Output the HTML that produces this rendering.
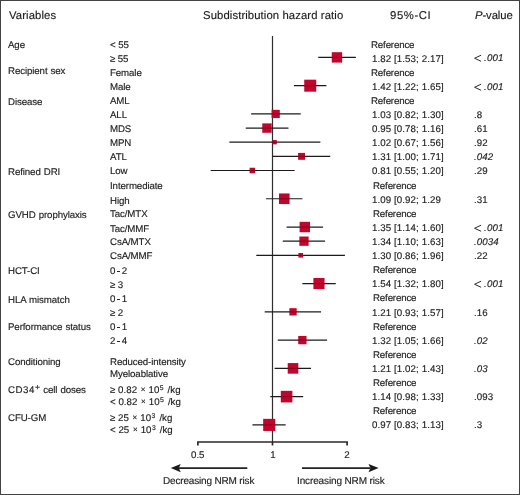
<!DOCTYPE html>
<html><head><meta charset="utf-8"><style>
html,body{margin:0;padding:0;background:#fff;}
body{width:520px;height:495px;position:relative;overflow:hidden;font-family:"Liberation Sans",sans-serif;color:#1e1c1d;text-rendering:geometricPrecision;}
.frame{position:absolute;left:0;top:0;width:518px;height:493px;border:1px solid #434343;}
.t{position:absolute;white-space:nowrap;will-change:transform;-webkit-text-stroke:0.15px #1e1c1d;}
sup{font-size:70%;vertical-align:0;position:relative;top:-0.42em;line-height:0;margin-left:0.4px;margin-right:1.3px;}
sup.sp{font-size:90%;top:-3px;margin-left:0.3px;margin-right:0;}
.x{font-size:82%;margin:0 0.3px 0 0.9px;position:relative;top:-0.6px;}
.d{display:inline-block;width:3.2px;height:0.95px;background:#2a2a2a;vertical-align:2.3px;margin:0 1.55px 0 1.7px;}
i{font-style:italic;}
svg{position:absolute;left:0;top:0;}
</style></head><body>
<div class="frame"></div>
<div class="t" style="left:8.60px;top:11px;font-size:11.3px;line-height:11.3px;letter-spacing:0.1px;">Variables</div>
<div class="t" style="left:203.00px;top:11px;font-size:11.3px;line-height:11.3px;letter-spacing:0.1px;">Subdistribution hazard ratio</div>
<div class="t" style="left:389.50px;top:11px;font-size:11.3px;line-height:11.3px;letter-spacing:0.6px;">95%-CI</div>
<div class="t" style="left:474.50px;top:11px;font-size:11.3px;line-height:11.3px;letter-spacing:-0.1px;"><i>P</i>-value</div>
<div class="t" style="left:8.20px;top:41px;font-size:9.7px;line-height:9.7px;letter-spacing:-0.1px;word-spacing:0.5px;">Age</div>
<div class="t" style="left:110.00px;top:41px;font-size:9.7px;line-height:9.7px;letter-spacing:-0.1px;">&lt; 55</div>
<div class="t" style="left:371.10px;top:41px;font-size:9.7px;line-height:9.7px;letter-spacing:-0.15px;">Reference</div>
<div class="t" style="left:110.00px;top:55px;font-size:9.7px;line-height:9.7px;letter-spacing:-0.1px;">&ge; 55</div>
<div class="t" style="left:372.00px;top:55px;font-size:9.7px;line-height:9.7px;letter-spacing:0.1px;">1.82 [1.53; 2.17]</div>
<div class="t" style="left:483.90px;top:54px;font-size:9.7px;line-height:9.7px;letter-spacing:0.2px;"><i>.001</i></div>
<div class="t" style="left:8.20px;top:67px;font-size:9.7px;line-height:9.7px;letter-spacing:-0.1px;word-spacing:0.5px;">Recipient sex</div>
<div class="t" style="left:110.00px;top:69px;font-size:9.7px;line-height:9.7px;letter-spacing:-0.1px;">Female</div>
<div class="t" style="left:371.10px;top:69px;font-size:9.7px;line-height:9.7px;letter-spacing:-0.15px;">Reference</div>
<div class="t" style="left:110.00px;top:83px;font-size:9.7px;line-height:9.7px;letter-spacing:-0.1px;">Male</div>
<div class="t" style="left:372.00px;top:83px;font-size:9.7px;line-height:9.7px;letter-spacing:0.1px;">1.42 [1.22; 1.65]</div>
<div class="t" style="left:483.90px;top:83px;font-size:9.7px;line-height:9.7px;letter-spacing:0.2px;"><i>.001</i></div>
<div class="t" style="left:8.20px;top:98px;font-size:9.7px;line-height:9.7px;letter-spacing:-0.1px;word-spacing:0.5px;">Disease</div>
<div class="t" style="left:110.00px;top:97px;font-size:9.7px;line-height:9.7px;letter-spacing:-0.1px;">AML</div>
<div class="t" style="left:371.10px;top:97px;font-size:9.7px;line-height:9.7px;letter-spacing:-0.15px;">Reference</div>
<div class="t" style="left:110.00px;top:111px;font-size:9.7px;line-height:9.7px;letter-spacing:-0.1px;">ALL</div>
<div class="t" style="left:372.00px;top:111px;font-size:9.7px;line-height:9.7px;letter-spacing:0.1px;">1.03 [0.82; 1.30]</div>
<div class="t" style="left:474.00px;top:111px;font-size:9.7px;line-height:9.7px;letter-spacing:0.1px;">.8</div>
<div class="t" style="left:110.00px;top:125px;font-size:9.7px;line-height:9.7px;letter-spacing:-0.1px;">MDS</div>
<div class="t" style="left:372.00px;top:125px;font-size:9.7px;line-height:9.7px;letter-spacing:0.1px;">0.95 [0.78; 1.16]</div>
<div class="t" style="left:474.00px;top:125px;font-size:9.7px;line-height:9.7px;letter-spacing:0.1px;">.61</div>
<div class="t" style="left:110.00px;top:139px;font-size:9.7px;line-height:9.7px;letter-spacing:-0.1px;">MPN</div>
<div class="t" style="left:372.00px;top:139px;font-size:9.7px;line-height:9.7px;letter-spacing:0.1px;">1.02 [0.67; 1.56]</div>
<div class="t" style="left:474.00px;top:139px;font-size:9.7px;line-height:9.7px;letter-spacing:0.1px;">.92</div>
<div class="t" style="left:110.00px;top:153px;font-size:9.7px;line-height:9.7px;letter-spacing:-0.1px;">ATL</div>
<div class="t" style="left:372.00px;top:153px;font-size:9.7px;line-height:9.7px;letter-spacing:0.1px;">1.31 [1.00; 1.71]</div>
<div class="t" style="left:474.00px;top:153px;font-size:9.7px;line-height:9.7px;letter-spacing:0.1px;"><i>.042</i></div>
<div class="t" style="left:8.20px;top:168px;font-size:9.7px;line-height:9.7px;letter-spacing:-0.1px;word-spacing:0.5px;">Refined DRI</div>
<div class="t" style="left:110.00px;top:167px;font-size:9.7px;line-height:9.7px;letter-spacing:-0.1px;">Low</div>
<div class="t" style="left:372.00px;top:167px;font-size:9.7px;line-height:9.7px;letter-spacing:0.1px;">0.81 [0.55; 1.20]</div>
<div class="t" style="left:474.00px;top:167px;font-size:9.7px;line-height:9.7px;letter-spacing:0.1px;">.29</div>
<div class="t" style="left:110.00px;top:182px;font-size:9.7px;line-height:9.7px;letter-spacing:-0.1px;">Intermediate</div>
<div class="t" style="left:372.60px;top:182px;font-size:9.7px;line-height:9.7px;letter-spacing:-0.15px;">Reference</div>
<div class="t" style="left:110.00px;top:197px;font-size:9.7px;line-height:9.7px;letter-spacing:-0.1px;">High</div>
<div class="t" style="left:372.00px;top:196px;font-size:9.7px;line-height:9.7px;letter-spacing:0.1px;">1.09 [0.92; 1.29</div>
<div class="t" style="left:474.00px;top:196px;font-size:9.7px;line-height:9.7px;letter-spacing:0.1px;">.31</div>
<div class="t" style="left:8.20px;top:211px;font-size:9.7px;line-height:9.7px;letter-spacing:-0.1px;word-spacing:0.5px;">GVHD prophylaxis</div>
<div class="t" style="left:110.00px;top:210px;font-size:9.7px;line-height:9.7px;letter-spacing:-0.1px;">Tac/MTX</div>
<div class="t" style="left:372.60px;top:210px;font-size:9.7px;line-height:9.7px;letter-spacing:-0.15px;">Reference</div>
<div class="t" style="left:110.00px;top:225px;font-size:9.7px;line-height:9.7px;letter-spacing:-0.1px;">Tac/MMF</div>
<div class="t" style="left:372.00px;top:224px;font-size:9.7px;line-height:9.7px;letter-spacing:0.1px;">1.35 [1.14; 1.60]</div>
<div class="t" style="left:483.90px;top:224px;font-size:9.7px;line-height:9.7px;letter-spacing:0.2px;"><i>.001</i></div>
<div class="t" style="left:110.00px;top:238px;font-size:9.7px;line-height:9.7px;letter-spacing:-0.1px;">CsA/MTX</div>
<div class="t" style="left:372.00px;top:238px;font-size:9.7px;line-height:9.7px;letter-spacing:0.1px;">1.34 [1.10; 1.63]</div>
<div class="t" style="left:474.00px;top:238px;font-size:9.7px;line-height:9.7px;letter-spacing:0.1px;"><i>.0034</i></div>
<div class="t" style="left:110.00px;top:252px;font-size:9.7px;line-height:9.7px;letter-spacing:-0.1px;">CsA/MMF</div>
<div class="t" style="left:372.00px;top:252px;font-size:9.7px;line-height:9.7px;letter-spacing:0.1px;">1.30 [0.86; 1.96]</div>
<div class="t" style="left:474.00px;top:252px;font-size:9.7px;line-height:9.7px;letter-spacing:0.1px;">.22</div>
<div class="t" style="left:8.20px;top:267px;font-size:9.7px;line-height:9.7px;letter-spacing:-0.1px;word-spacing:0.5px;">HCT-CI</div>
<div class="t" style="left:110.00px;top:267px;font-size:9.7px;line-height:9.7px;letter-spacing:-0.1px;">0<span class="d"></span>2</div>
<div class="t" style="left:372.60px;top:266px;font-size:9.7px;line-height:9.7px;letter-spacing:-0.15px;">Reference</div>
<div class="t" style="left:110.00px;top:281px;font-size:9.7px;line-height:9.7px;letter-spacing:-0.1px;">&ge; 3</div>
<div class="t" style="left:372.00px;top:280px;font-size:9.7px;line-height:9.7px;letter-spacing:0.1px;">1.54 [1.32; 1.80]</div>
<div class="t" style="left:483.90px;top:280px;font-size:9.7px;line-height:9.7px;letter-spacing:0.2px;"><i>.001</i></div>
<div class="t" style="left:8.20px;top:296px;font-size:9.7px;line-height:9.7px;letter-spacing:-0.1px;word-spacing:0.5px;">HLA mismatch</div>
<div class="t" style="left:110.00px;top:295px;font-size:9.7px;line-height:9.7px;letter-spacing:-0.1px;">0<span class="d"></span>1</div>
<div class="t" style="left:372.60px;top:294px;font-size:9.7px;line-height:9.7px;letter-spacing:-0.15px;">Reference</div>
<div class="t" style="left:110.00px;top:309px;font-size:9.7px;line-height:9.7px;letter-spacing:-0.1px;">&ge; 2</div>
<div class="t" style="left:372.00px;top:309px;font-size:9.7px;line-height:9.7px;letter-spacing:0.1px;">1.21 [0.93; 1.57]</div>
<div class="t" style="left:474.00px;top:309px;font-size:9.7px;line-height:9.7px;letter-spacing:0.1px;">.16</div>
<div class="t" style="left:8.20px;top:323px;font-size:9.7px;line-height:9.7px;letter-spacing:-0.1px;word-spacing:0.5px;">Performance status</div>
<div class="t" style="left:110.00px;top:323px;font-size:9.7px;line-height:9.7px;letter-spacing:-0.1px;">0<span class="d"></span>1</div>
<div class="t" style="left:372.60px;top:323px;font-size:9.7px;line-height:9.7px;letter-spacing:-0.15px;">Reference</div>
<div class="t" style="left:110.00px;top:337px;font-size:9.7px;line-height:9.7px;letter-spacing:-0.1px;">2<span class="d"></span>4</div>
<div class="t" style="left:372.00px;top:337px;font-size:9.7px;line-height:9.7px;letter-spacing:0.1px;">1.32 [1.05; 1.66]</div>
<div class="t" style="left:474.00px;top:337px;font-size:9.7px;line-height:9.7px;letter-spacing:0.1px;"><i>.02</i></div>
<div class="t" style="left:8.20px;top:358px;font-size:9.7px;line-height:9.7px;letter-spacing:-0.1px;word-spacing:0.5px;">Conditioning</div>
<div class="t" style="left:110.00px;top:358px;font-size:9.7px;line-height:9.7px;letter-spacing:-0.1px;">Reduced-intensity</div>
<div class="t" style="left:372.60px;top:351px;font-size:9.7px;line-height:9.7px;letter-spacing:-0.15px;">Reference</div>
<div class="t" style="left:110.00px;top:370px;font-size:9.7px;line-height:9.7px;letter-spacing:-0.1px;">Myeloablative</div>
<div class="t" style="left:372.00px;top:365px;font-size:9.7px;line-height:9.7px;letter-spacing:0.1px;">1.21 [1.02; 1.43]</div>
<div class="t" style="left:474.00px;top:365px;font-size:9.7px;line-height:9.7px;letter-spacing:0.1px;"><i>.03</i></div>
<div class="t" style="left:8.20px;top:386px;font-size:9.7px;line-height:9.7px;letter-spacing:-0.1px;word-spacing:0.5px;"><span style="letter-spacing:0.5px">CD34</span><sup class="sp">+</sup> cell doses</div>
<div class="t" style="left:110.00px;top:386px;font-size:9.7px;line-height:9.7px;letter-spacing:0.04px;">&ge; 0.82 <span class="x">&times;</span> 10<sup>5</sup> /kg</div>
<div class="t" style="left:372.60px;top:379px;font-size:9.7px;line-height:9.7px;letter-spacing:-0.15px;">Reference</div>
<div class="t" style="left:110.00px;top:398px;font-size:9.7px;line-height:9.7px;letter-spacing:0.04px;">&lt; 0.82 <span class="x">&times;</span> 10<sup>5</sup> /kg</div>
<div class="t" style="left:372.00px;top:393px;font-size:9.7px;line-height:9.7px;letter-spacing:0.1px;">1.14 [0.98; 1.33]</div>
<div class="t" style="left:474.00px;top:393px;font-size:9.7px;line-height:9.7px;letter-spacing:0.1px;">.093</div>
<div class="t" style="left:8.20px;top:414px;font-size:9.7px;line-height:9.7px;letter-spacing:-0.1px;word-spacing:0.5px;">CFU-GM</div>
<div class="t" style="left:110.00px;top:414px;font-size:9.7px;line-height:9.7px;letter-spacing:0.04px;">&ge; 25 <span class="x">&times;</span> 10<sup>3</sup> /kg</div>
<div class="t" style="left:372.60px;top:407px;font-size:9.7px;line-height:9.7px;letter-spacing:-0.15px;">Reference</div>
<div class="t" style="left:110.00px;top:426px;font-size:9.7px;line-height:9.7px;letter-spacing:0.04px;">&lt; 25 <span class="x">&times;</span> 10<sup>3</sup> /kg</div>
<div class="t" style="left:372.00px;top:421px;font-size:9.7px;line-height:9.7px;letter-spacing:0.1px;">0.97 [0.83; 1.13]</div>
<div class="t" style="left:474.00px;top:421px;font-size:9.7px;line-height:9.7px;letter-spacing:0.1px;">.3</div>
<div class="t" style="left:191.20px;top:451px;font-size:9.7px;line-height:9.7px;">0.5</div>
<div class="t" style="left:252.5px;width:40px;text-align:center;top:451px;font-size:9.7px;line-height:9.7px;">1</div>
<div class="t" style="left:327.10px;width:40px;text-align:center;top:451px;font-size:9.7px;line-height:9.7px;">2</div>
<div class="t" style="left:163.30px;top:477px;font-size:10.0px;line-height:10.0px;letter-spacing:-0.17px;">Decreasing NRM risk</div>
<div class="t" style="left:297.30px;top:477px;font-size:10.0px;line-height:10.0px;letter-spacing:-0.13px;">Increasing NRM risk</div>
<svg width="520" height="495" viewBox="0 0 520 495">
<path d="M481.1 55.20 L474.6 58.25 L481.1 61.30" fill="none" stroke="#231f20" stroke-width="0.95"/>
<path d="M481.1 84.20 L474.6 87.25 L481.1 90.30" fill="none" stroke="#231f20" stroke-width="0.95"/>
<path d="M481.1 225.20 L474.6 228.25 L481.1 231.30" fill="none" stroke="#231f20" stroke-width="0.95"/>
<path d="M481.1 281.20 L474.6 284.25 L481.1 287.30" fill="none" stroke="#231f20" stroke-width="0.95"/>
<line x1="272.5" y1="36" x2="272.5" y2="442" stroke="#2e2e2e" stroke-width="1.2"/>
<path d="M197.90 445.4 V442 H347.10 V445.4 M272.5 442 V445.4" fill="none" stroke="#2a2a2a" stroke-width="1.7"/>
<line x1="318.27" y1="57.41" x2="355.88" y2="57.41" stroke="#1c1a1b" stroke-width="1.2"/>
<rect x="331.75" y="52.20" width="10.4" height="10.4" fill="#c2052c"/>
<line x1="331.75" y1="57.41" x2="342.15" y2="57.41" stroke="#000" stroke-opacity="0.3" stroke-width="1.2"/>
<line x1="293.90" y1="85.68" x2="326.40" y2="85.68" stroke="#1c1a1b" stroke-width="1.2"/>
<rect x="304.24" y="79.68" width="12.0" height="12.0" fill="#c2052c"/>
<line x1="304.24" y1="85.68" x2="316.24" y2="85.68" stroke="#000" stroke-opacity="0.3" stroke-width="1.2"/>
<line x1="251.14" y1="113.94" x2="300.74" y2="113.94" stroke="#1c1a1b" stroke-width="1.2"/>
<rect x="271.58" y="109.84" width="8.2" height="8.2" fill="#c2052c"/>
<line x1="271.58" y1="113.94" x2="279.78" y2="113.94" stroke="#000" stroke-opacity="0.3" stroke-width="1.2"/>
<line x1="245.76" y1="128.08" x2="288.47" y2="128.08" stroke="#1c1a1b" stroke-width="1.2"/>
<rect x="262.28" y="123.38" width="9.4" height="9.4" fill="#c2052c"/>
<line x1="262.28" y1="128.08" x2="271.68" y2="128.08" stroke="#000" stroke-opacity="0.3" stroke-width="1.2"/>
<line x1="229.40" y1="142.22" x2="320.36" y2="142.22" stroke="#1c1a1b" stroke-width="1.2"/>
<rect x="272.48" y="140.06" width="4.3" height="4.3" fill="#c2052c"/>
<line x1="272.48" y1="142.22" x2="276.78" y2="142.22" stroke="#000" stroke-opacity="0.3" stroke-width="1.2"/>
<line x1="272.50" y1="156.35" x2="330.24" y2="156.35" stroke="#1c1a1b" stroke-width="1.2"/>
<rect x="298.11" y="152.90" width="6.9" height="6.9" fill="#c2052c"/>
<line x1="298.11" y1="156.35" x2="305.01" y2="156.35" stroke="#000" stroke-opacity="0.3" stroke-width="1.2"/>
<line x1="210.66" y1="170.49" x2="294.62" y2="170.49" stroke="#1c1a1b" stroke-width="1.2"/>
<rect x="249.57" y="167.74" width="5.5" height="5.5" fill="#c2052c"/>
<line x1="249.57" y1="170.49" x2="255.07" y2="170.49" stroke="#000" stroke-opacity="0.3" stroke-width="1.2"/>
<line x1="266.03" y1="198.75" x2="302.41" y2="198.75" stroke="#1c1a1b" stroke-width="1.2"/>
<rect x="278.97" y="193.45" width="10.6" height="10.6" fill="#c2052c"/>
<line x1="278.97" y1="198.75" x2="289.57" y2="198.75" stroke="#000" stroke-opacity="0.3" stroke-width="1.2"/>
<line x1="286.60" y1="227.03" x2="323.08" y2="227.03" stroke="#1c1a1b" stroke-width="1.2"/>
<rect x="299.60" y="221.83" width="10.4" height="10.4" fill="#c2052c"/>
<line x1="299.60" y1="227.03" x2="310.00" y2="227.03" stroke="#000" stroke-opacity="0.3" stroke-width="1.2"/>
<line x1="282.76" y1="241.16" x2="325.08" y2="241.16" stroke="#1c1a1b" stroke-width="1.2"/>
<rect x="299.35" y="236.51" width="9.3" height="9.3" fill="#c2052c"/>
<line x1="299.35" y1="241.16" x2="308.65" y2="241.16" stroke="#000" stroke-opacity="0.3" stroke-width="1.2"/>
<line x1="256.27" y1="255.30" x2="344.93" y2="255.30" stroke="#1c1a1b" stroke-width="1.2"/>
<rect x="298.44" y="253.00" width="4.6" height="4.6" fill="#c2052c"/>
<line x1="298.44" y1="255.30" x2="303.04" y2="255.30" stroke="#000" stroke-opacity="0.3" stroke-width="1.2"/>
<line x1="302.38" y1="283.56" x2="335.76" y2="283.56" stroke="#1c1a1b" stroke-width="1.2"/>
<rect x="313.42" y="278.01" width="11.1" height="11.1" fill="#c2052c"/>
<line x1="313.42" y1="283.56" x2="324.52" y2="283.56" stroke="#000" stroke-opacity="0.3" stroke-width="1.2"/>
<line x1="264.69" y1="311.83" x2="321.05" y2="311.83" stroke="#1c1a1b" stroke-width="1.2"/>
<rect x="289.37" y="308.19" width="7.3" height="7.3" fill="#c2052c"/>
<line x1="289.37" y1="311.83" x2="296.67" y2="311.83" stroke="#000" stroke-opacity="0.3" stroke-width="1.2"/>
<line x1="277.75" y1="340.10" x2="327.05" y2="340.10" stroke="#1c1a1b" stroke-width="1.2"/>
<rect x="298.23" y="335.95" width="8.3" height="8.3" fill="#c2052c"/>
<line x1="298.23" y1="340.10" x2="306.53" y2="340.10" stroke="#000" stroke-opacity="0.3" stroke-width="1.2"/>
<line x1="274.63" y1="368.38" x2="310.99" y2="368.38" stroke="#1c1a1b" stroke-width="1.2"/>
<rect x="287.72" y="363.07" width="10.6" height="10.6" fill="#c2052c"/>
<line x1="287.72" y1="368.38" x2="298.32" y2="368.38" stroke="#000" stroke-opacity="0.3" stroke-width="1.2"/>
<line x1="270.33" y1="396.64" x2="303.19" y2="396.64" stroke="#1c1a1b" stroke-width="1.2"/>
<rect x="280.80" y="390.84" width="11.6" height="11.6" fill="#c2052c"/>
<line x1="280.80" y1="396.64" x2="292.40" y2="396.64" stroke="#000" stroke-opacity="0.3" stroke-width="1.2"/>
<line x1="252.45" y1="424.91" x2="285.65" y2="424.91" stroke="#1c1a1b" stroke-width="1.2"/>
<rect x="263.17" y="418.86" width="12.1" height="12.1" fill="#c2052c"/>
<line x1="263.17" y1="424.91" x2="275.27" y2="424.91" stroke="#000" stroke-opacity="0.3" stroke-width="1.2"/>
<line x1="247.3" y1="468.1" x2="179" y2="468.1" stroke="#222" stroke-width="1.6"/>
<path d="M170.8 468.1 L180.7 463.9 L178.8 468.1 L180.7 472.3 Z" fill="#1a1a1a"/>
<line x1="302" y1="468.1" x2="370" y2="468.1" stroke="#222" stroke-width="1.6"/>
<path d="M378.6 468.1 L368.5 463.9 L370.4 468.1 L368.5 472.3 Z" fill="#1a1a1a"/>
</svg>
</body></html>
